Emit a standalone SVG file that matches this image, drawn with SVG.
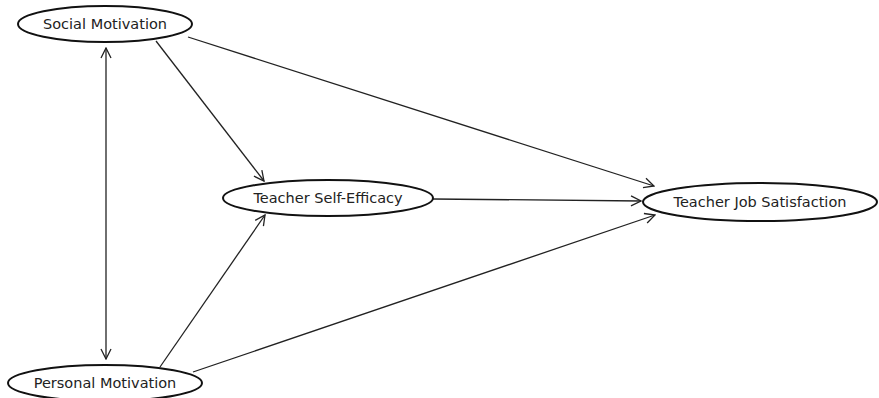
<svg xmlns="http://www.w3.org/2000/svg" width="879" height="398" viewBox="0 0 879 398">
<style>
.n ellipse{fill:#fff;stroke:#111;stroke-width:2}
.n text{font-family:"DejaVu Sans",sans-serif;font-size:14.5px;fill:#222;text-anchor:middle;dominant-baseline:central}
.e line{stroke:#222;stroke-width:1.3;fill:none}
</style>
<defs>
<marker id="a" viewBox="0 0 12 12" refX="11" refY="6" markerWidth="12" markerHeight="12" markerUnits="userSpaceOnUse" orient="auto-start-reverse">
<polyline points="1,1 11,6 1,11" fill="none" stroke="#222" stroke-width="1.3"/>
</marker>
</defs>
<rect width="879" height="398" fill="#fff"/>
<g id="edges" class="e">
<line x1="106" y1="48" x2="106" y2="359" marker-start="url(#a)" marker-end="url(#a)"/>
<line x1="156" y1="41" x2="264" y2="181" marker-end="url(#a)"/>
<line x1="188" y1="37" x2="654" y2="186" marker-end="url(#a)"/>
<line x1="433" y1="199" x2="641" y2="201" marker-end="url(#a)"/>
<line x1="160" y1="367" x2="265" y2="215" marker-end="url(#a)"/>
<line x1="193" y1="372" x2="655" y2="215" marker-end="url(#a)"/>
</g>
<g id="social" class="n"><ellipse cx="105" cy="24" rx="87" ry="18"/><text x="105" y="24">Social Motivation</text></g>
<g id="personal" class="n"><ellipse cx="105" cy="383" rx="97" ry="18"/><text x="105" y="383">Personal Motivation</text></g>
<g id="selfefficacy" class="n"><ellipse cx="328" cy="198" rx="105" ry="18"/><text x="328" y="198">Teacher Self-Efficacy</text></g>
<g id="jobsat" class="n"><ellipse cx="760" cy="202" rx="117" ry="19"/><text x="760" y="202">Teacher Job Satisfaction</text></g>
</svg>
